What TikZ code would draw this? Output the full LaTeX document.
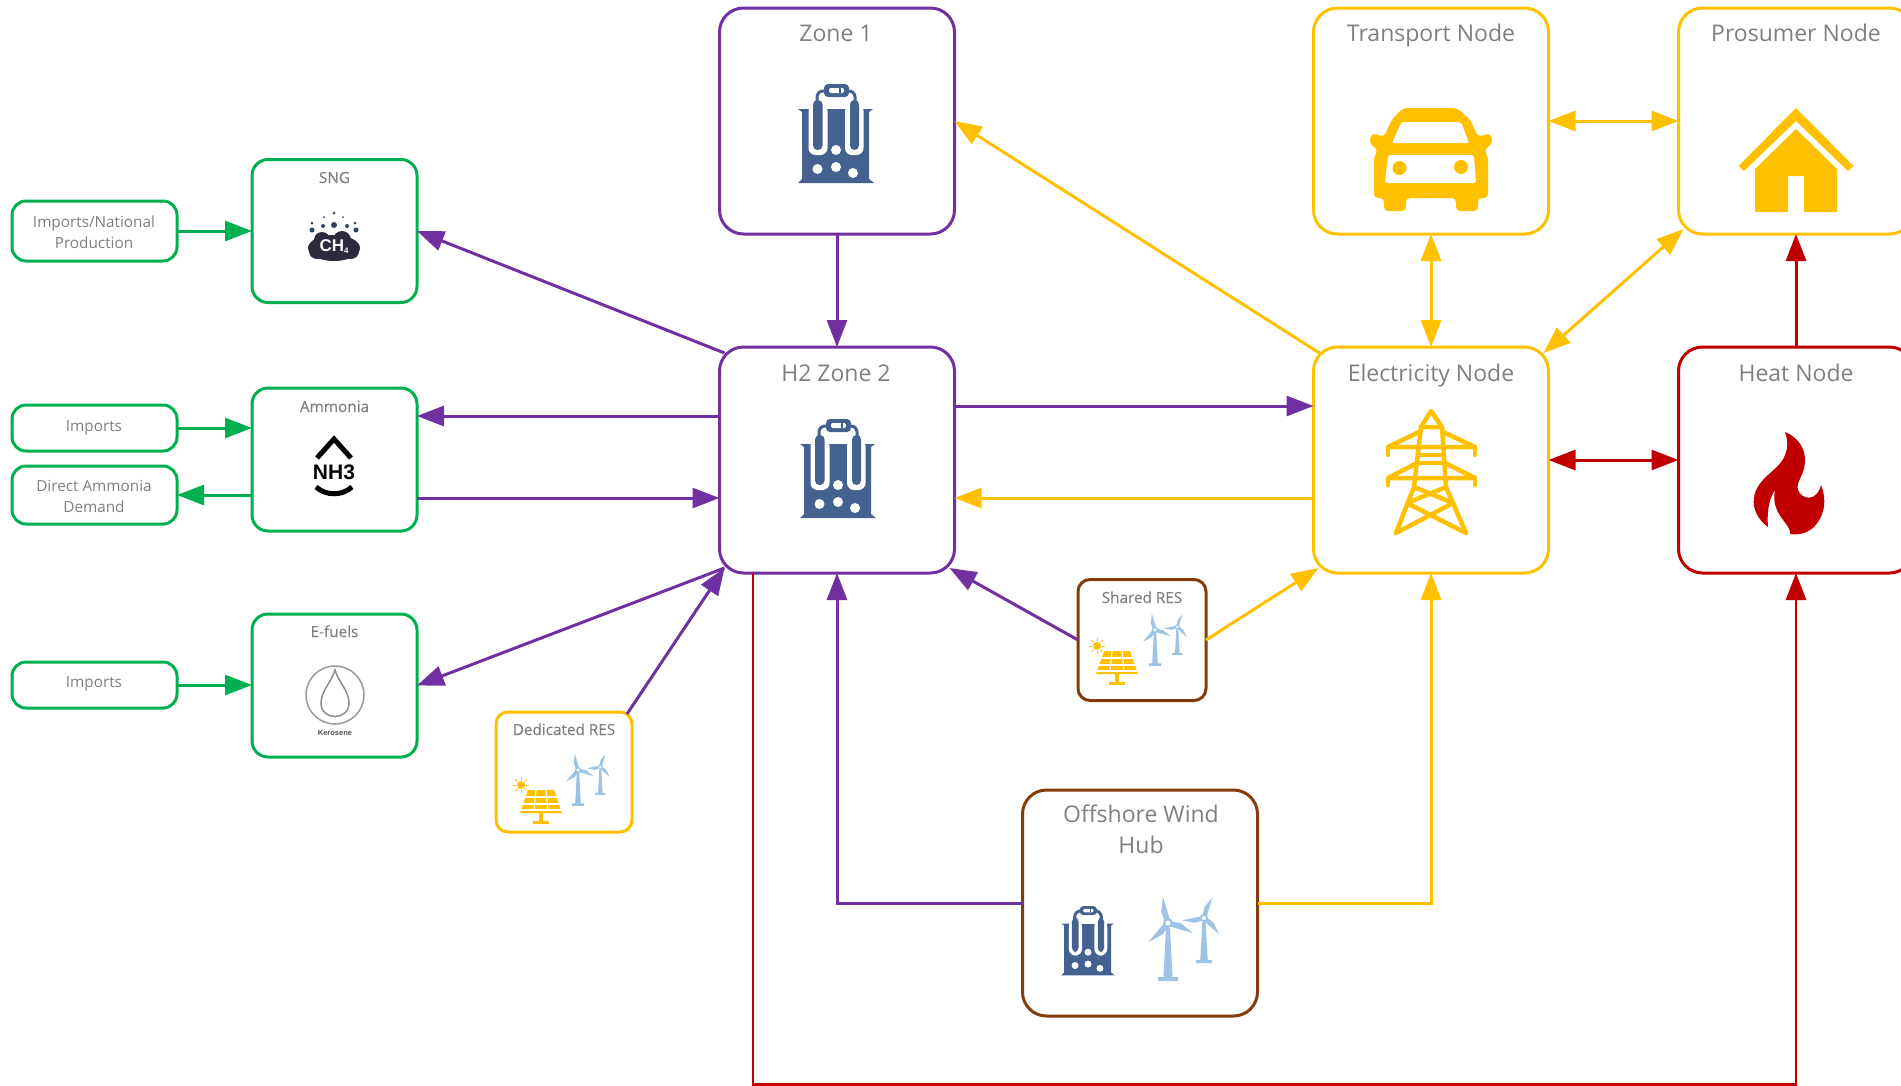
\documentclass[tikz,border=0pt]{standalone}
\usepackage{fontspec}
\setmainfont{Open Sans}
\newfontfamily\iconfont{Liberation Sans}
\usetikzlibrary{arrows.meta}
\definecolor{zonepurple}{HTML}{7030A0}
\definecolor{nodeyellow}{HTML}{FFC000}
\definecolor{heatred}{HTML}{C00000}
\definecolor{fuelgreen}{HTML}{00B050}
\definecolor{hubbrown}{HTML}{843C0C}
\definecolor{tankblue}{HTML}{44618F}
\definecolor{bladeblue}{HTML}{9DC3E6}
\definecolor{titlegrey}{HTML}{7F7F7F}
\definecolor{cloudgrey}{HTML}{2B2B3D}
\tikzset{
  bigbox/.style={draw,line width=3pt,rounded corners=24pt,minimum width=235pt,minimum height=226pt,inner sep=0pt,outer sep=0pt},
  fuelbox/.style={draw=fuelgreen,line width=3pt,rounded corners=16pt,minimum width=165pt,minimum height=143pt,inner sep=0pt,outer sep=0pt},
  sourcebox/.style={draw=fuelgreen,line width=3pt,rounded corners=14pt,minimum width=165pt,inner sep=0pt,outer sep=0pt},
  resbox/.style={draw,line width=3pt,rounded corners=12pt,inner sep=0pt,outer sep=0pt},
  bigtitle/.style={text=titlegrey,font=\fontsize{23}{31}\selectfont,align=center,inner sep=0pt,anchor=base},
  sourcetitle/.style={text=titlegrey,font=\fontsize{15.3}{21}\selectfont,align=center,inner sep=0pt,anchor=base},
  smalltitle/.style={sourcetitle,font=\fontsize{15.3}{21}\selectfont\addfontfeature{FakeBold=0.3}},
  oneway/.style={line width=3pt,-{Triangle[length=27pt,width=20pt]}},
  twoway/.style={line width=3pt,{Triangle[length=27pt,width=20pt]}-{Triangle[length=27pt,width=20pt]}},
  electrolyser/.pic={
    \fill[tankblue] (-38,-25) -- (37,-25) -- (33,-22) -- (33,45) -- (38,49) -- (-38,49) -- (-34,45) -- (-34,-22) -- cycle;
    \fill[white,rounded corners=7pt] (-27.5,-30) rectangle (-8.5,21);
    \fill[white,rounded corners=7pt] (9,-30) rectangle (27.5,21);
    \fill[white] (-27.5,-32) rectangle (27.5,-25);
    \fill[tankblue,rounded corners=4.5pt] (-23,-34) rectangle (-13.5,16);
    \fill[tankblue,rounded corners=4.5pt] (14,-34) rectangle (23,16);
    \draw[tankblue,line width=3pt,rounded corners=6pt] (-19,-30) -- (-19,-43) -- (19,-43) -- (19,-30);
    \fill[tankblue,rounded corners=4pt] (-12,-50) rectangle (13,-37);
    \fill[white,rounded corners=2pt] (-7,-46) rectangle (8,-41);
    \fill[tankblue] (3,-46) rectangle (4.5,-41);
    \fill[white] (0,16) circle [radius=5];
    \fill[white] (-18.5,35) circle [radius=5];
    \fill[white] (0,33) circle [radius=5];
    \fill[white] (17,39) circle [radius=5];
  },
  turbinepair/.pic={
    \foreach \hubx/\huby/\towerlen/\s/\aone/\atwo/\athree in {0/0/54/1/101/-22/224,36/-5/51/0.82/68/186/-47} {
      \begin{scope}[shift={(\hubx,\huby)},scale=\s]
        \fill[bladeblue] (-2,5) -- (2,5) -- (4.5,\towerlen) -- (10,\towerlen) -- (10,\towerlen+4) -- (-10,\towerlen+4) -- (-10,\towerlen) -- (-4.5,\towerlen) -- cycle;
        \foreach \a in {\aone,\atwo,\athree} {
          \fill[bladeblue,rotate=\a] (3,-3) -- (12,-4.5) -- (27,0) -- (3,2.5) -- cycle;
        }
        \fill[bladeblue] (0,0) circle [radius=5];
        \fill[white] (0,0) circle [radius=2.5];
      \end{scope}
    }
  },
  solarpanel/.pic={
    \fill[nodeyellow] (-13,0) -- (13,0) -- (21,23) -- (-21,23) -- cycle;
    \fill[nodeyellow] (-2,23) rectangle (2,32);
    \fill[nodeyellow] (-8,31) rectangle (8,34);
    \draw[white,line width=1.2pt] (-16,7) -- (16,7);
    \draw[white,line width=1.2pt] (-18,14) -- (18,14);
    \draw[white,line width=1.2pt] (-20,20) -- (20,20);
    \draw[white,line width=1.2pt] (-5,0) -- (-7,20);
    \draw[white,line width=1.2pt] (5,0) -- (7,20);
    \fill[nodeyellow] (-20,-5) circle [radius=4];
    \foreach \a in {0,45,...,315} {
      \draw[nodeyellow,line width=0.9pt,shift={(-20,-5)},rotate=\a] (5,0) -- (8,0);
    }
  }
}
\begin{document}
\begin{tikzpicture}[x=1pt,y=-1pt]
  \useasboundingbox (0,0) rectangle (1901,1085);
  \clip (0,0) rectangle (1901,1085);
  \node[bigbox,draw=zonepurple] (zoneone) at (837,121) {};
  \node[bigbox,draw=zonepurple] (zonetwo) at (837,460) {};
  \node[bigbox,draw=nodeyellow] (transport) at (1431,121) {};
  \node[bigbox,draw=nodeyellow] (prosumer) at (1796,121) {};
  \node[bigbox,draw=nodeyellow] (electricity) at (1431,460) {};
  \node[bigbox,draw=heatred] (heat) at (1796,460) {};
  \node[bigbox,draw=hubbrown] (offshore) at (1140,903) {};
  \node[resbox,draw=hubbrown,minimum width=128pt,minimum height=121pt] (sharedres) at (1142,640) {};
  \node[resbox,draw=nodeyellow,minimum width=136pt,minimum height=120pt] (dedicatedres) at (564,772) {};
  \node[fuelbox] (sng) at (334.5,231) {};
  \node[fuelbox] (ammonia) at (334.5,459.5) {};
  \node[fuelbox] (efuels) at (334.5,685.5) {};
  \node[sourcebox,minimum height=60pt] (importsnat) at (94.5,231) {};
  \node[sourcebox,minimum height=46pt] (importsamm) at (94.5,428) {};
  \node[sourcebox,minimum height=58pt] (directamm) at (94.5,495) {};
  \node[sourcebox,minimum height=46pt] (importsfuel) at (94.5,685) {};

  \node[bigtitle] (zoneonetitle) at (836,41) {Zone 1};
  \node[bigtitle] (zonetwotitle) at (836,381) {H2 Zone 2};
  \node[bigtitle] (transporttitle) at (1431,41) {Transport Node};
  \node[bigtitle] (prosumertitle) at (1796,41) {Prosumer Node};
  \node[bigtitle] (electricitytitle) at (1431,381) {Electricity Node};
  \node[bigtitle] (heattitle) at (1796,381) {Heat Node};
  \node[bigtitle] (offshoretitle) at (1141,853) {Offshore Wind\\Hub};
  \node[smalltitle] (sngtitle) at (334.5,183) {SNG};
  \node[smalltitle] (ammoniatitle) at (334.5,412) {Ammonia};
  \node[smalltitle] (efuelstitle) at (334.5,637) {E-fuels};
  \node[smalltitle] (sharedtitle) at (1142,603) {Shared RES};
  \node[smalltitle] (dedicatedtitle) at (564,735) {Dedicated RES};
  \node[sourcetitle] (importsnattitle) at (94,248) {Imports/National\\Production};
  \node[sourcetitle] (importsammtitle) at (94,431) {Imports};
  \node[sourcetitle] (directammtitle) at (94,512) {Direct Ammonia\\Demand};
  \node[sourcetitle] (importsfueltitle) at (94,687) {Imports};

  \draw[oneway,fuelgreen] (importsnat.east) -- (sng.west |- importsnat.east);
  \draw[oneway,fuelgreen] (importsamm.east) -- (ammonia.west |- importsamm.east);
  \draw[oneway,fuelgreen] (ammonia.west |- directamm.east) -- (directamm.east);
  \draw[oneway,fuelgreen] (importsfuel.east) -- (efuels.west |- importsfuel.east);

  \draw[oneway,zonepurple] (zoneone.south) -- (zonetwo.north);
  \draw[oneway,zonepurple] ([xshift=5pt,yshift=-6pt]zonetwo.north west) -- (sng.east);
  \draw[oneway,zonepurple] ([yshift=44pt]zonetwo.west) -- ([yshift=44pt]zonetwo.west -| ammonia.east);
  \draw[oneway,zonepurple] ([yshift=-38pt]zonetwo.west -| ammonia.east) -- ([yshift=-38pt]zonetwo.west);
  \draw[oneway,zonepurple] ([xshift=5pt,yshift=5pt]zonetwo.south west) -- (efuels.east);
  \draw[oneway,zonepurple] ([xshift=-5pt,yshift=-2pt]dedicatedres.north east) -- ([xshift=5pt,yshift=5pt]zonetwo.south west);
  \draw[oneway,zonepurple] (sharedres.west) -- ([xshift=-5pt,yshift=5pt]zonetwo.south east);
  \draw[oneway,zonepurple] (offshore.west) -| (zonetwo.south);
  \draw[oneway,zonepurple] ([yshift=54pt]zonetwo.east) -- ([yshift=54pt]zonetwo.east -| electricity.west);

  \draw[oneway,nodeyellow] ([yshift=-38pt]electricity.west) -- ([yshift=-38pt]zonetwo.east);
  \draw[oneway,nodeyellow] ([xshift=6pt,yshift=-6pt]electricity.north west) -- (zoneone.east);
  \draw[oneway,nodeyellow] (sharedres.east) -- ([xshift=5pt,yshift=5pt]electricity.south west);
  \draw[oneway,nodeyellow] (offshore.east) -| (electricity.south);
  \draw[twoway,nodeyellow] (transport.south) -- (electricity.north);
  \draw[twoway,nodeyellow] (transport.east) -- (prosumer.west);
  \draw[twoway,nodeyellow] ([xshift=-5pt,yshift=-6pt]electricity.north east) -- ([xshift=5pt,yshift=5pt]prosumer.south west);

  \draw[twoway,heatred] (electricity.east) -- (heat.west);
  \draw[oneway,heatred] (heat.north) -- (prosumer.south);
  \coordinate (heatcorner) at (753,1084.5);
  \draw[oneway,heatred,line width=2.8pt] (zonetwo.south -| heatcorner) -- (heatcorner) -| (heat.south);

  \pic at (836,134) {electrolyser};
  \pic at (838,469) {electrolyser};
  \pic[scale=0.7] at (1088,941) {electrolyser};
  \pic at (1168,923) {turbinepair};
  \pic[scale=0.62] at (1155,630) {turbinepair};
  \pic[scale=0.62] at (578,770) {turbinepair};
  \pic at (1117,651) {solarpanel};
  \pic at (541,790) {solarpanel};

  \begin{scope}[shift={(1431,160)}]
    \fill[nodeyellow,rounded corners=4pt] (-28,-52) -- (26,-52) -- (39.5,-40) -- (47,-23) -- (59,-27) -- (62,-17) -- (53,-10) -- (57,-3) -- (57,38) -- (47,38) -- (47,51) -- (25,51) -- (25,38) -- (-25,38) -- (-25,51) -- (-47,51) -- (-47,38) -- (-57,38) -- (-57,-3) -- (-53,-10) -- (-62,-17) -- (-59,-27) -- (-47,-23) -- (-39.5,-40) -- cycle;
    \fill[white,rounded corners=2pt] (-29.5,-38) -- (30,-38) -- (38,-17) -- (-39,-17) -- cycle;
    \fill[white,rounded corners=2pt] (-43,-5) -- (43,-5) -- (45,23) -- (-46,23) -- cycle;
    \fill[nodeyellow] (-31.5,8) circle [radius=7];
    \fill[nodeyellow] (30,7) circle [radius=7];
  \end{scope}
  \begin{scope}[shift={(1796,160)}]
    \fill[nodeyellow] (0,-52) -- (57.5,6) -- (52,11) -- (0,-39) -- (-52,11) -- (-57.5,6) -- cycle;
    \fill[nodeyellow] (0,-31) -- (41,9) -- (41,52) -- (8,52) -- (8,16) -- (-8,16) -- (-8,52) -- (-41,52) -- (-41,9) -- cycle;
  \end{scope}
  \begin{scope}[shift={(1431,470)},nodeyellow,line width=4.5pt,line join=round,line cap=round]
    \draw (-10,-43) -- (0,-59) -- (11,-43) -- cycle;
    \draw (-10,-43) -- (-17,17) -- (-35,63);
    \draw (11,-43) -- (15,17) -- (35,63);
    \draw (-12,-38) -- (-43,-23) -- (44,-23) -- (12,-38);
    \draw (-43,-23) -- (-43,-15);
    \draw (44,-23) -- (44,-15);
    \draw (-14,-7) -- (14,-7);
    \draw (-14,-7) -- (-43,8) -- (44,8) -- (14,-7);
    \draw (-43,8) -- (-43,15);
    \draw (44,8) -- (44,15);
    \draw (-17,17) -- (22,33) -- (-35,63);
    \draw (15,17) -- (-24,33) -- (35,63);
    \draw (-12,-15) -- (12,-15);
  \end{scope}
  \fill[heatred] (1785,432) .. controls (1800,438) and (1808,452) .. (1804,468) .. controls (1802,478) and (1796,482) .. (1798,490) .. controls (1802,500) and (1817,502) .. (1821,485) .. controls (1827,500) and (1825,515) .. (1814,527) .. controls (1806,534) and (1798,535) .. (1790,534) .. controls (1792,524) and (1770,515) .. (1775,490) .. controls (1768,500) and (1767,515) .. (1768,527) .. controls (1758,520) and (1752,508) .. (1754,498) .. controls (1756,478) and (1780,470) .. (1785,455) .. controls (1788,448) and (1788,440) .. (1785,432) -- cycle;
  \begin{scope}[shift={(334,243)}]
    \fill[cloudgrey] (0,5) ellipse (26 and 13);
    \fill[cloudgrey] (-12,-3) circle [radius=8];
    \fill[cloudgrey] (8,-3) circle [radius=9];
    \fill[cloudgrey] (-17,8) circle [radius=8];
    \fill[cloudgrey] (17,8) circle [radius=8];
    \foreach \dotx/\doty/\dotr in {-22/-13/2.5,-11/-17/2,0/-18/3,13/-17/2,-22/-20/1.5,21/-20/1.5,22/-13/2.5,0/-30/1.5,-10/-26/1,9/-26/1} {
      \fill[tankblue!70!black] (\dotx,\doty) circle [radius=\dotr];
    }
    \node[text=white,font=\iconfont\bfseries\fontsize{17}{17}\selectfont,inner sep=0pt] (chfour) at (0,4) {CH\raisebox{-2pt}{\fontsize{8}{8}\selectfont 4}};
  \end{scope}
  \begin{scope}[shift={(334,437)}]
    \draw[black,line width=5pt] (-17,21) -- (0,2) -- (17,21);
    \node[text=black,font=\iconfont\bfseries\fontsize{21}{21}\selectfont,inner sep=0pt] (nhthree) at (0,35) {NH3};
    \draw[black,line width=5pt] (-18,50) .. controls (-8,59) and (8,59) .. (18,50);
  \end{scope}
  \begin{scope}[shift={(335,695)}]
    \draw[black!40,line width=1.5pt] (0,0) circle [radius=29];
    \draw[black!45,line width=1.5pt] (0,-25) .. controls (4,-12) and (14,-4) .. (14,8) .. controls (14,26) and (-14,26) .. (-14,8) .. controls (-14,-4) and (-4,-12) .. (0,-25) -- cycle;
    \node[text=black!70,font=\iconfont\bfseries\fontsize{7.5}{8}\selectfont,inner sep=0pt] (kerosene) at (0,38) {Kerosene};
  \end{scope}
\end{tikzpicture}
\end{document}
